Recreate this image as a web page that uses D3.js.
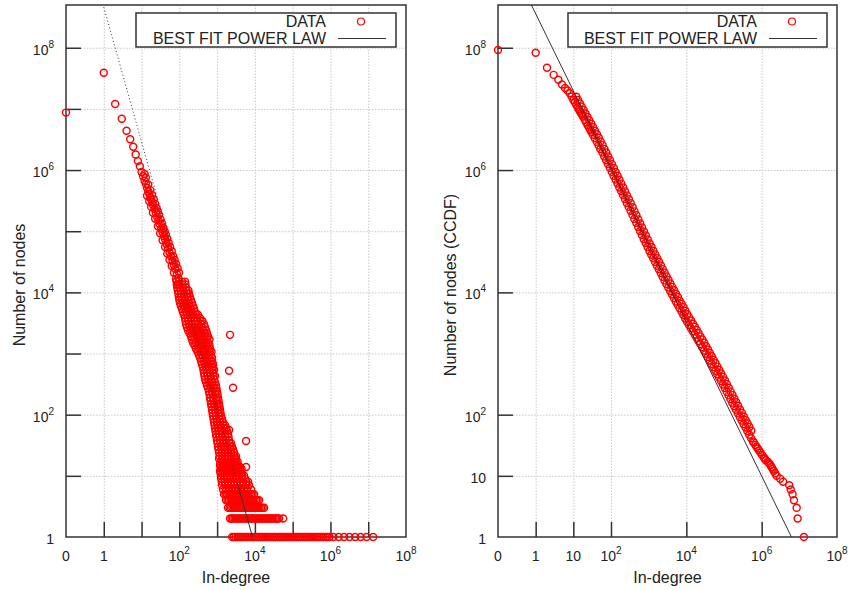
<!DOCTYPE html>
<html><head><meta charset="utf-8">
<script src="https://cdn.jsdelivr.net/npm/d3@7"></script>
<style>
body{margin:0;background:#fff;}
svg text{font-family:"Liberation Sans",Arial,Helvetica,sans-serif;fill:#222;}
</style></head><body>
<svg id="c" width="849" height="590"></svg>
<script>
// ---------------- DATA ----------------
const xDomain = [0.1, 1e8];           // degree 0 is drawn at the "0" position (0.1)
const yDomain = [1, 5e8];

// Left panel: number of nodes per in-degree  [degree, count]
const leftHead = [[0,8.7e6],[1,3.9e7],[2,1.2e7],[3,6.9e6],[4,4.4e6],[5,3.2e6],[6,2.4e6],[7,1.8e6],[8,1.4e6],[9,1.15e6],[10,9.3e5]];
const leftUpper = [[11,7.9e5],[12,6.7e5],[13,5.9e5],[14,5.1e5],[15,4.5e5],[16,4.1e5],[17,3.6e5],[18,3.3e5],[19,3.0e5],[20,2.7e5],[22,2.3e5],[24,2.0e5],[26,1.7e5],[28,1.5e5],[30,1.3e5],[33,1.1e5],[36,9.5e4],[39,8.3e4],[42,7.3e4],[46,6.2e4],[50,5.3e4],[55,4.5e4],[60,3.9e4],[66,3.3e4],[72,2.8e4],[79,2.4e4],[86,2.0e4],[94,1.7e4]];
const leftUpper2 = [[12,8.6e5],[13,7.5e5],[15,5.8e5],[17,4.7e5],[19,3.9e5],[21,3.3e5],[23,2.8e5],[25,2.4e5],[27,2.1e5],[29,1.85e5],[32,1.55e5],[35,1.32e5],[38,1.13e5],[41,9.9e4],[44,8.7e4],[48,7.5e4],[52,6.5e4],[57,5.5e4],[63,4.7e4],[69,3.9e4],[75,3.4e4],[82,2.9e4],[90,2.5e4],[98,2.1e4]];
const leftUpper3 = [[14,3.8e5],[16,3.1e5],[18,2.5e5],[20,2.0e5],[23,1.6e5],[27,1.2e5],[31,9.3e4],[36,7.1e4],[42,5.5e4],[48,4.3e4],[55,3.4e4],[63,2.7e4],[72,2.1e4],[82,1.65e4],[92,1.35e4]];
// rows of the noisy part: [count, [degrees having about that count]]
const leftRows = [
 [15000,[84,98,117,141]],
 [13500,[86,101,121,145]],
 [12000,[88,104,124,150]],
 [10700,[91,107,128,154,174]],
 [9500,[94,110,132,159,180]],
 [8400,[97,114,136,164,191]],
 [7500,[100,117,141,169,203]],
 [6700,[104,124.5,150,180,216]],
 [6000,[110,132,159,191,230]],
 [5400,[117,141,169,203,244]],
 [4800,[124,150,180,216,260]],
 [4300,[132,159,191,230,275,311]],
 [3800,[141,169,203,244,293,352]],
 [3400,[145,174,209,252,302,363,409]],
 [3000,[150,180,216,260,311,374,449]],
 [2700,[159,191,230,275,331,397,477]],
 [2400,[169,203,244,293,352,422,508]],
 [2150,[186,223,267,321,385,462,540]],
 [1900,[203,244,293,352,422,508,574]],
 [1700,[216,260,311,374,449,540,628]],
 [1500,[230,275,331,397,477,574]],
 [1350,[252,302,363,435,523,628]],
 [1200,[275,331,397,477,574,648]],
 [1070,[302,363,435,523,628,711]],
 [950,[331,397,477,574,689]],
 [850,[352,422,508,610,733]],
 [750,[374,449,540,648,733]],
 [670,[397,477,574,689,779]],
 [600,[422,508,610,733,779]],
 [540,[435,523,628,756,828]],
 [480,[449,540,648,779]],
 [430,[462,557,668,803,880]],
 [380,[477,574,689,828]],
 [340,[508,610,733,880]],
 [300,[540,648,779,935]],
 [270,[574,689,828,963]],
 [240,[610,733,880,994]],
 [215,[628,756,907,1025]],
 [190,[648,779,935,1057]],
 [170,[668,803,963,1090]],
 [150,[689,828,994,1123]],
 [135,[711,854,1025,1157]],
 [120,[733,880,1057,1194]],
 [107,[756,907,1090,1231]],
 [95,[779,935,1123,1269]],
 [85,[803,963,1157,1349]],
 [75,[828,994,1194,1434]],
 [67,[854,1025,1231,1478,1620]],
 [60,[880,1057,1269,1524,1722]],
 [54,[907,1090,1308,1571,1831]],
 [48,[935,1123,1349,1620,1946]],
 [43,[963,1157,1390,1670,2006]],
 [38,[994,1194,1434,1722,2069]],
 [34,[1025,1231,1478,1775,2133,2337]],
 [30,[1057,1269,1524,1831,2198,2484]],
 [27,[1090,1308,1571,1887,2266,2641]],
 [24,[1123,1349,1620,1946,2337,2806]],
 [21,[1157,1390,1670,2006,2410,2893,3170]],
 [19,[1123,1349,1620,1946,2337,2806,3170]],
 [17,[1231,1478,1775,2133,2561,3076,3476]],
 [15,[1194,1434,1722,2069,2484,2983,3582]],
 [14,[1231,1478,1775,2133,2561,3076,3476,3690,4047]],
 [13,[1269,1524,1831,2198,2641,3170,3808,4434]],
 [12,[1194,1434,1722,2069,2484,2983,3582,4302]],
 [11,[1230,1480,1780,2130,2560,3070,3690,4430]],
 [10,[1269,1524,1831,2198,2641,3170,3808,4572,5170]],
 [9,[1269,1524,1831,2198,2641,3170,3808,4572,5490]],
 [8,[1349,1620,1946,2337,2806,3370,4047,4860,5840,6600]],
 [7,[1349,1620,1946,2337,2806,3370,4047,4860,5840,7015]],
 [6,[1434,1722,2069,2484,2983,3582,4302,5170,6205,7930]],
 [5,[1524,1670,1831,2007,2198,2409,2641,2895,3170,3474,3808,4174,4572,5011,5490,6017,6600,7234,7930,8691,9520]],
 [4,[1722,1887,2069,2268,2484,2722,2983,3269,3582,3926,4302,4715,5170,5666,6205,6801,7460,8176,8960,9820,10760,11793,12930]],
 [3,[1946,2133,2337,2561,2806,3075,3370,3694,4047,4436,4860,5327,5840,6401,7015,7688,8430,9239,10100,11070,12160,13327,14600,16002,17500]],
 [2,[2198,2409,2641,2895,3170,3474,3808,4174,4572,5011,5490,6017,6600,7234,7930,8691,9520,10434,11440,12538,13700,15015,16500,18084,19800,21700,23800,26085,28600,31346,34300,37593,40000,43800,56000]],
 [1,[2500,2800,3100,3500,3900,4400,4900,5500,6200,7000,7800,8800,9900,11000,12500,14000,15700,17600,19800,22000,25000,28000,31500,35000,40000,45000,50000,56000,63000,71000,80000,90000,101000,113000,127000,143000,160000,180000,203000,228000,256000,290000,325000,365000,410000,460000,520000,585000,660000,740000,830000,940000,1200000,1650000,2300000,3200000,4500000,6300000,9000000,13500000]]
];
const leftOutliers = [[2200,2020],[2070,521],[2640,275],[2070,56],[5840,37],[5840,14]];

// Right panel: CCDF  [degree, nodes with at least that degree]
const rightHead = [[0,9.2e7],[1,8.3e7],[2,4.7e7],[3,3.6e7],[4,3.0e7],[5,2.5e7],[6,2.2e7],[7,2.0e7],[8,1.8e7],[9,1.6e7],[10,1.4e7]];
const rightBand = [[11,1.28e7],[12,1.16e7],[13,1.06e7],[14,9.8e6],[15,9.1e6],[16,8.5e6],[17,8.0e6],[18,7.5e6],[20,6.65e6],[22,5.98e6],[24,5.42e6],[26,4.95e6],[28,4.56e6],[30,4.23e6],[33,3.78e6],[37,3.3e6],[42,2.89e6],[47,2.53e6],[52,2.21e6],[59,1.93e6],[66,1.67e6],[74,1.45e6],[83,1.26e6],[93,1.09e6],[105,9.4e5],[117,8.1e5],[132,7.0e5],[148,6.05e5],[166,5.2e5],[186,4.5e5],[209,3.9e5],[234,3.36e5],[263,2.9e5],[295,2.5e5],[331,2.16e5],[372,1.85e5],[417,1.59e5],[468,1.37e5],[525,1.17e5],[589,1.01e5],[661,8.7e4],[741,7.4e4],[832,6.4e4],[933,5.5e4],[1047,4.74e4],[1175,4.13e4],[1318,3.6e4],[1479,3.13e4],[1660,2.73e4],[1862,2.38e4],[2089,2.07e4],[2344,1.8e4],[2630,1.57e4],[2951,1.37e4],[3311,1.2e4],[3715,1.05e4],[4169,9.2e3],[4677,8.1e3],[5248,7.1e3],[5888,6.3e3],[6607,5.5e3],[7413,4.85e3],[8318,4.27e3],[9333,3.75e3],[10470,3.3e3],[11750,2.93e3],[13180,2.6e3],[14790,2.31e3],[16600,2.05e3],[18620,1.82e3],[20890,1.61e3],[23440,1.43e3],[26300,1.27e3],[29510,1.12e3],[33110,995],[37150,875],[41690,769],[46770,676],[52480,594],[58880,522],[66070,459],[74130,404],[83180,355],[93330,312],[104700,273],[117500,238],[131800,207],[147900,180],[166000,157],[186200,137],[208900,120],[234400,105],[263000,92],[295100,80],[331100,70],[371500,61.5],[416900,53.8],[467700,47.1],[524800,41.2],[588800,36.5]];
const rightBand2 = [[12,1.58e7],[13.3,1.40e7],[15,1.23e7],[16.8,1.09e7],[18.8,9.6e6],[21.1,8.4e6],[23.7,7.4e6],[26.6,6.5e6],[29.9,5.7e6],[33.5,5.0e6],[37.6,4.4e6],[42.2,3.85e6],[47.3,3.37e6],[53.1,2.94e6],[59.6,2.56e6],[66.8,2.22e6],[75,1.93e6],[84.1,1.67e6],[94.4,1.45e6],[106,1.25e6],[119,1.08e6],[133,9.3e5],[150,8.1e5],[168,6.95e5],[188,6.0e5],[211,5.2e5],[237,4.47e5],[266,3.85e5],[299,3.33e5],[335,2.86e5],[376,2.46e5],[422,2.11e5],[473,1.82e5],[531,1.56e5],[596,1.34e5],[668,1.15e5],[750,9.9e4],[841,8.5e4],[944,7.3e4],[1059,6.3e4],[1189,5.5e4],[1334,4.8e4],[1496,4.17e4],[1679,3.63e4],[1884,3.16e4],[2113,2.75e4],[2371,2.4e4],[2661,2.09e4],[2985,1.82e4],[3350,1.59e4],[3758,1.4e4],[4217,1.23e4],[4732,1.08e4],[5309,9.5e3],[5957,8.4e3],[6683,7.3e3],[7499,6.5e3],[8414,5.7e3],[9441,5.0e3],[10590,4.4e3],[11890,3.9e3],[13340,3.47e3],[14960,3.08e3],[16790,2.73e3],[18840,2.42e3],[21130,2.15e3],[23710,1.9e3],[26610,1.69e3],[29850,1.5e3],[33500,1.32e3],[37580,1.16e3],[42170,1.02e3],[47320,900],[53090,791],[59570,695],[66830,611],[74990,537],[84140,472],[94410,415],[105900,363],[118900,316],[133400,275],[149600,240],[167900,209],[188400,182],[211300,160],[237100,140],[266100,122],[298500,107],[335000,93.5],[375800,81.8],[421700,71.6],[473200,62.7],[530900,54.8]];
const rightTail = [[6.15e5,35],[6.8e5,32],[7.3e5,30],[7.85e5,28],[8.5e5,26],[9.3e5,24],[1.02e6,22],[1.14e6,20],[1.21e6,19],[1.29e6,18],[1.45e6,17],[1.58e6,16],[1.70e6,15],[1.82e6,14],[1.95e6,13],[2.09e6,12],[2.29e6,11],[2.5e6,10],[3.1e6,9],[3.7e6,8],[5.4e6,7],[5.9e6,6],[6.6e6,5],[7.2e6,4],[8.5e6,3],[9.0e6,2],[1.32e7,1]];

// Best fit power laws: count = C * degree^-alpha
const leftFit = {C:4.6e8, alpha:2.2, xmin:3500};
const rightFit = {C:3.6e8, alpha:1.26, xstart:0.5};

// Ticks and labels
const leftXTicks = [1,10,100,1e3,1e4,1e5,1e6,1e7];
const leftYTicks = [10,100,1e3,1e4,1e5,1e6,1e7,1e8];
const rightXTicks = [1,10,100,1e4,1e6];
const rightYTicks = [10,100,1e4,1e6,1e8];
const leftXLabelVals = [0.1,1,100,1e4,1e6,1e8];
const leftXLabelText = ["0","1","10^2","10^4","10^6","10^8"];
const leftYLabelVals = [1,100,1e4,1e6,1e8];
const leftYLabelText = ["1","10^2","10^4","10^6","10^8"];
const rightXLabelVals = [0.1,1,10,100,1e4,1e6,1e8];
const rightXLabelText = ["0","1","10","10^2","10^4","10^6","10^8"];
const rightYLabelVals = [1,10,100,1e4,1e6,1e8];
const rightYLabelText = ["1","10","10^2","10^4","10^6","10^8"];
const legendLabels = ["DATA","BEST FIT POWER LAW"];
const xTitle = "In-degree";
const leftYTitle = "Number of nodes";
const rightYTitle = "Number of nodes (CCDF)";

// ---------------- DRAW ----------------
const svg = d3.select("#c");
const RED = "#ff0000", INK = "#333";

function flat(rows){ const out=[]; rows.forEach(r=>r[1].forEach(d=>out.push([d,r[0]]))); return out; }

function supText(sel, s){
  const p = s.split("^");
  sel.text(p[0]);
  if (p[1]) sel.append("tspan").attr("dy",-7).attr("font-size",10).text(p[1]);
}

function panel(o){
  const x = d3.scaleLog().domain(xDomain).range([o.x0,o.x1]);
  const y = d3.scaleLog().domain(yDomain).range([o.y1,o.y0]);
  const xp = d => x(d===0 ? xDomain[0] : d);
  const g = svg.append("g");
  const h = o.y1-o.y0, w = o.x1-o.x0;

  // grid
  g.append("g").attr("transform",`translate(0,${o.y1})`)
    .call(d3.axisBottom(x).tickValues(o.xTicks).tickSize(-h).tickFormat(""))
    .call(s=>{s.select(".domain").remove(); s.selectAll("line").attr("stroke","#c8c8c8").attr("stroke-dasharray","1.5,1.5");});
  g.append("g").attr("transform",`translate(${o.x0},0)`)
    .call(d3.axisLeft(y).tickValues(o.yTicks).tickSize(-w).tickFormat(""))
    .call(s=>{s.select(".domain").remove(); s.selectAll("line").attr("stroke","#c8c8c8").attr("stroke-dasharray","1.5,1.5");});

  const clipId = "clip"+o.id;
  svg.append("clipPath").attr("id",clipId).append("rect").attr("x",o.x0).attr("y",o.y0).attr("width",w).attr("height",h);

  // frame
  g.append("rect").attr("x",o.x0).attr("y",o.y0).attr("width",w).attr("height",h)
    .attr("fill","none").attr("stroke",INK).attr("stroke-width",1.5);
  // tick marks (inward)
  g.append("g").attr("transform",`translate(0,${o.y1})`)
    .call(d3.axisBottom(x).tickValues(o.xTicks).tickSize(-15).tickFormat(""))
    .call(s=>{s.select(".domain").remove(); s.selectAll("line").attr("stroke",INK).attr("stroke-width",1.5);});
  g.append("g").attr("transform",`translate(${o.x0},0)`)
    .call(d3.axisLeft(y).tickValues(o.yTicks).tickSize(-15).tickFormat(""))
    .call(s=>{s.select(".domain").remove(); s.selectAll("line").attr("stroke",INK).attr("stroke-width",1.5);});

  // data
  g.append("g").selectAll("circle").data(o.points).join("circle")
    .attr("cx",d=>xp(d[0])).attr("cy",d=>y(d[1])).attr("r",3.5)
    .attr("fill","none").attr("stroke",RED).attr("stroke-width",1.45);

  // fit
  const fy = xv => o.fit.C*Math.pow(xv,-o.fit.alpha);
  const xEnd = Math.pow(o.fit.C,1/o.fit.alpha);
  const line = d3.line().x(d=>x(d)).y(d=>y(fy(d)));
  const fg = g.append("g").attr("clip-path",`url(#${clipId})`);
  if (o.fit.xmin){
    fg.append("path").attr("d",line([1,o.fit.xmin])).attr("fill","none").attr("stroke",INK).attr("stroke-width",1).attr("stroke-dasharray","1,2.5");
    fg.append("path").attr("d",line([o.fit.xmin,xEnd])).attr("fill","none").attr("stroke",INK).attr("stroke-width",1);
  } else {
    fg.append("path").attr("d",line([o.fit.xstart,xEnd])).attr("fill","none").attr("stroke",INK).attr("stroke-width",1);
  }

  // tick labels
  g.append("g").selectAll("text").data(d3.zip(o.xLabVals,o.xLabText)).join("text")
    .attr("x",d=>x(d[0])).attr("y",o.y1+24).attr("text-anchor","middle").attr("font-size",14)
    .each(function(d){ supText(d3.select(this), d[1]); });
  g.append("g").selectAll("text").data(d3.zip(o.yLabVals,o.yLabText)).join("text")
    .attr("x",o.x0-12).attr("y",d=>y(d[0])+7).attr("text-anchor","end").attr("font-size",14)
    .each(function(d){ supText(d3.select(this), d[1]); });

  // titles
  g.append("text").attr("x",(o.x0+o.x1)/2).attr("y",583).attr("text-anchor","middle").attr("font-size",16).text(xTitle);
  g.append("text").attr("transform",`translate(${o.ytx},${(o.y0+o.y1)/2+14}) rotate(-90)`).attr("text-anchor","middle").attr("font-size",16).text(o.yTitle);

  // legend
  const L = o.legend;
  g.append("rect").attr("x",L.x).attr("y",L.y).attr("width",L.w).attr("height",L.h)
    .attr("fill","#fff").attr("stroke",INK).attr("stroke-width",1.5);
  const tx = L.x + L.w - 70;
  g.append("text").attr("x",tx).attr("y",L.y+14).attr("text-anchor","end").attr("font-size",16).text(legendLabels[0]);
  g.append("text").attr("x",tx).attr("y",L.y+31).attr("text-anchor","end").attr("font-size",16).text(legendLabels[1]);
  g.append("circle").attr("cx",L.x+L.w-35).attr("cy",L.y+8.5).attr("r",3.5).attr("fill","none").attr("stroke",RED).attr("stroke-width",1.2);
  g.append("line").attr("x1",L.x+L.w-58).attr("x2",L.x+L.w-10).attr("y1",L.y+25.5).attr("y2",L.y+25.5).attr("stroke",INK).attr("stroke-width",1);
}

panel({id:"L", x0:66, x1:406, y0:5, y1:537,
  points: leftHead.concat(leftUpper, leftUpper2, leftUpper3, flat(leftRows), leftOutliers),
  fit: leftFit, xTicks:leftXTicks, yTicks:leftYTicks,
  xLabVals:leftXLabelVals, xLabText:leftXLabelText, yLabVals:leftYLabelVals, yLabText:leftYLabelText,
  yTitle:leftYTitle, ytx:25, legend:{x:136,y:13,w:260,h:34}});

panel({id:"R", x0:498, x1:837, y0:5, y1:537,
  points: rightHead.concat(rightBand, rightBand2, rightTail),
  fit: rightFit, xTicks:rightXTicks, yTicks:rightYTicks,
  xLabVals:rightXLabelVals, xLabText:rightXLabelText, yLabVals:rightYLabelVals, yLabText:rightYLabelText,
  yTitle:rightYTitle, ytx:456, legend:{x:568,y:13,w:259,h:34}});
</script>
</body></html>
